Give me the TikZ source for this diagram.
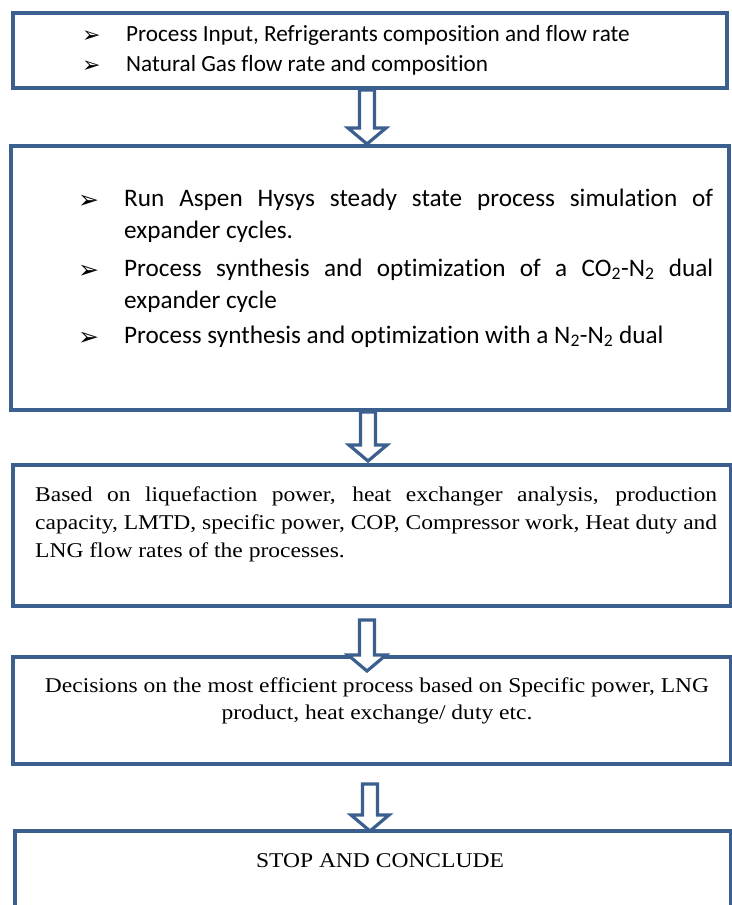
\documentclass[tikz,border=0pt]{standalone}
\usepackage{fontspec}
\setmainfont[FakeStretch=1.12]{Liberation Serif}
\newfontfamily\calib[Ligatures=CommonOff]{Carlito}
\newfontfamily\djv{DejaVu Sans}
\usetikzlibrary{calc}
\definecolor{bdr}{RGB}{59,95,143}
\newcommand\blkarrow[2]{%
  \draw[blk] let \p1=(#1), \p2=(#2) in
    (\x1-7.5pt,\y1) -- (\x1-7.5pt,\y2+16pt) -- (\x1-19pt,\y2+16pt) -- (\x1,\y2)
    -- (\x1+19pt,\y2+16pt) -- (\x1+7.5pt,\y2+16pt) -- (\x1+7.5pt,\y1) -- cycle;}
\begin{document}
\begin{tikzpicture}[x=1pt,y=-1pt,
  box/.style={draw=bdr, line width=4pt, fill=white, inner sep=0pt, outer sep=0pt, anchor=north west},
  blk/.style={draw=bdr, line width=3.2pt, fill=white, line join=miter},
  txt/.style={inner sep=0pt, anchor=base west, text=black},
  ctxt/.style={inner sep=0pt, anchor=base, text=black},
  bul/.style={inner sep=0pt, anchor=base west, font=\djv\fontsize{22}{22}\selectfont},
  bulb/.style={inner sep=0pt, anchor=base west, font=\djv\fontsize{25}{25}\selectfont},
  fa/.style={font=\calib\fontsize{23.2}{23.2}\selectfont},
  fb/.style={font=\calib\fontsize{25.2}{25.2}\selectfont},
  fs/.style={font=\fontsize{21}{21}\selectfont}]
\useasboundingbox (0,0) rectangle (731,905);
\fill[white] (0,0) rectangle (731,905);
% boxes
\node[box, minimum width=714pt, minimum height=75pt] (b1) at (13,13) {};
\node[box, minimum width=718pt, minimum height=264pt] (b2) at (11,146) {};
\node[box, minimum width=718pt, minimum height=141pt] (b3) at (13,465) {};
\node[box, minimum width=718pt, minimum height=107pt] (b4) at (13,657) {};
\node[box, minimum width=716pt, minimum height=100pt] (b5) at (15,831) {};
% arrows
\coordinate (a1t) at ($(b1.south)+(-3,2)$);
\coordinate (a1h) at ($(b2.north)+(-3,-2)$);
\coordinate (a2t) at ($(b2.south)+(-2,2)$);
\coordinate (a2h) at ($(b3.north)+(-2,-4)$);
\coordinate (a3t) at ($(b3.south)+(-5,14)$);
\coordinate (a3h) at ($(b4.north)+(-5,14)$);
\coordinate (a4t) at ($(b4.south)+(-2,20)$);
\coordinate (a4h) at ($(b5.north)+(-3,0)$);
\blkarrow{a1t}{a1h}
\blkarrow{a2t}{a2h}
\blkarrow{a3t}{a3h}
\blkarrow{a4t}{a4h}
% box 1
\node[bul] (k11) at (82,42) {➢};
\node[txt,fa] (t11) at (126,41) {Process Input, Refrigerants composition and flow rate};
\node[bul] (k12) at (82,72) {➢};
\node[txt,fa] (t12) at (126,71) {Natural Gas flow rate and composition};
% box 2
\node[bulb] (k21) at (78,208) {➢};
\node[txt,fb] (t21) at (124,206) {\makebox[589pt][s]{Run Aspen Hysys steady state process simulation of}};
\node[txt,fb] (t22) at (124,238) {expander cycles.};
\node[bulb] (k22) at (78,278) {➢};
\node[txt,fb] (t23) at (124,276) {\makebox[589pt][s]{Process synthesis and optimization of a CO\textsubscript{2}-N\textsubscript{2} dual}};
\node[txt,fb] (t24) at (124,308) {expander cycle};
\node[bulb] (k23) at (78,345) {➢};
\node[txt,fb] (t25) at (124,343) {Process synthesis and optimization with a N\textsubscript{2}-N\textsubscript{2} dual};
% box 3
\node[txt,fs] (t31) at (35,501) {\makebox[682pt][s]{Based on liquefaction power, heat exchanger analysis, production}};
\node[txt,fs] (t32) at (35,529) {\makebox[682pt][s]{capacity, LMTD, specific power, COP, Compressor work, Heat duty and}};
\node[txt,fs] (t33) at (35,557) {LNG flow rates of the processes.};
% box 4
\node[ctxt,fs] (t41) at (377,692) {Decisions on the most efficient process based on Specific power, LNG};
\node[ctxt,fs] (t42) at (377,719) {product, heat exchange/ duty etc.};
% box 5
\node[ctxt,fs] (t51) at (380,867) {STOP AND CONCLUDE};
\end{tikzpicture}
\end{document}
